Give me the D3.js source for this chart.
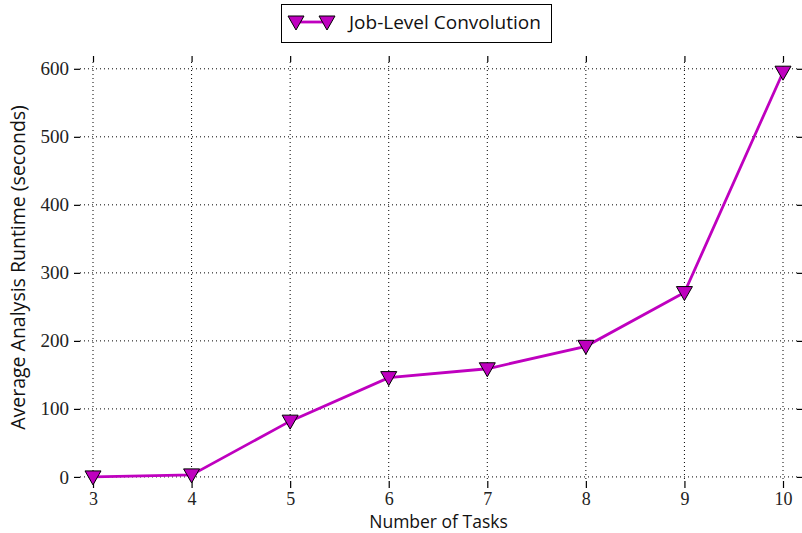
<!DOCTYPE html>
<html><head><meta charset="utf-8">
<script src="https://cdn.jsdelivr.net/npm/d3@7"></script>
<style>body{margin:0;background:#fff;} svg{display:block;}</style>
</head><body>
<svg id="c" width="802" height="533"></svg>
<script>
const tasks = [3, 4, 5, 6, 7, 8, 9, 10];
const runtime = [0, 3, 82, 146, 159, 192, 271, 595];
const yTicks = [0, 100, 200, 300, 400, 500, 600];
const seriesName = "Job-Level Convolution";
const xLabel = "Number of Tasks";
const yLabel = "Average Analysis Runtime (seconds)";

const color = "#bf00bf";
const serif = "'Liberation Serif', 'DejaVu Serif', serif";
const sans = "'Open Sans', 'DejaVu Sans', sans-serif";

const svg = d3.select("#c");
const L = 80, R = 797, T = 62, B = 481;
const x = d3.scaleLinear().domain([2.868, 10.142]).range([L, R]);
const y = d3.scaleLinear().domain([-6, 610]).range([B, T]);

// grid
const grid = svg.append("g");
grid.selectAll(".gx").data(tasks).enter().append("line")
  .attr("x1", d => x(d)).attr("x2", d => x(d)).attr("y1", T).attr("y2", B)
  .attr("stroke", "#000").attr("stroke-width", 1).attr("stroke-dasharray", "1,3");
grid.selectAll(".gy").data(yTicks).enter().append("line")
  .attr("y1", d => y(d)).attr("y2", d => y(d)).attr("x1", L).attr("x2", R)
  .attr("stroke", "#000").attr("stroke-width", 1).attr("stroke-dasharray", "1,3");

// axes (ticks outward on all four sides, no spines)
function styleAxis(g, fs) {
  g.select(".domain").remove();
  g.selectAll(".tick line").attr("stroke", "#000").attr("stroke-width", 1.2);
  g.selectAll("text").attr("font-family", serif).attr("font-size", fs).attr("fill", "#222");
}
svg.append("g").attr("transform", `translate(0,${B})`)
  .call(d3.axisBottom(x).tickValues(tasks).tickSize(7).tickPadding(4).tickFormat(d3.format("d")))
  .call(styleAxis, 18);
svg.append("g").attr("transform", `translate(0,${T})`)
  .call(d3.axisTop(x).tickValues(tasks).tickSize(6).tickFormat(""))
  .call(styleAxis, 19);
svg.append("g").attr("transform", `translate(${L},0)`)
  .call(d3.axisLeft(y).tickValues(yTicks).tickSize(6).tickPadding(5).tickFormat(d3.format("d")))
  .call(styleAxis, 19);
svg.append("g").attr("transform", `translate(${R},0)`)
  .call(d3.axisRight(y).tickValues(yTicks).tickSize(6).tickFormat(""))
  .call(styleAxis, 19);

// line
const pts = tasks.map((t, i) => [t, runtime[i]]);
svg.append("path").datum(pts)
  .attr("d", d3.line().x(d => x(d[0])).y(d => y(d[1])))
  .attr("fill", "none").attr("stroke", color).attr("stroke-width", 2.8);

const tri = "M-8,-6L8,-6L0,8Z";
svg.selectAll(".m").data(pts).enter().append("path")
  .attr("d", tri).attr("transform", d => `translate(${x(d[0])},${y(d[1])})`)
  .attr("fill", color).attr("stroke", "#000").attr("stroke-width", 1);

// axis labels
svg.append("text").attr("x", (L + R) / 2).attr("y", 527.5).attr("text-anchor", "middle")
  .attr("font-family", sans).attr("font-size", 17.5).attr("fill", "#111").text(xLabel);
svg.append("text").attr("transform", `translate(25,${(T + B) / 2 - 4}) rotate(-90)`)
  .attr("text-anchor", "middle").attr("font-family", sans).attr("font-size", 19.5)
  .attr("fill", "#111").text(yLabel);

// legend
const lg = svg.append("g");
lg.append("rect").attr("x", 281.5).attr("y", 4.5).attr("width", 270).attr("height", 38)
  .attr("fill", "#fff").attr("stroke", "#000").attr("stroke-width", 1);
lg.append("line").attr("x1", 296).attr("x2", 327).attr("y1", 22).attr("y2", 22)
  .attr("stroke", color).attr("stroke-width", 2.8);
[296, 327].forEach(px => lg.append("path").attr("d", tri)
  .attr("transform", `translate(${px},22)`).attr("fill", color).attr("stroke", "#000").attr("stroke-width", 1));
lg.append("text").attr("x", 349).attr("y", 29).attr("font-family", sans).attr("font-size", 19)
  .attr("fill", "#111").text(seriesName);
</script>
</body></html>
